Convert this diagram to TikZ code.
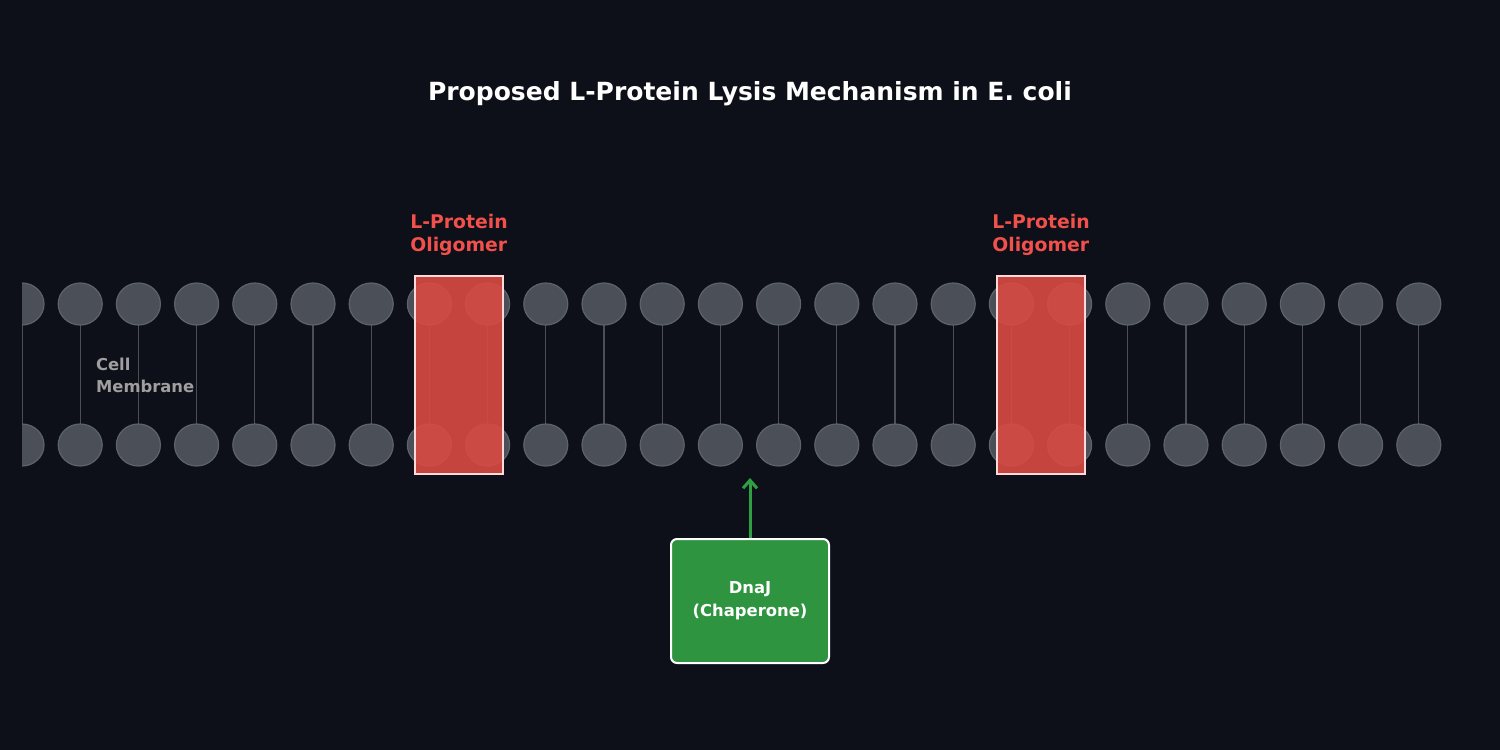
\documentclass[tikz,border=0pt]{standalone}
\usepackage{fontspec}
\setmainfont{DejaVu Sans}
\usetikzlibrary{arrows.meta}
\definecolor{bgdark}{HTML}{0D1018}
\definecolor{headgray}{HTML}{4B5058}
\definecolor{headedge}{HTML}{5E636B}
\definecolor{tailgray}{HTML}{4A4E56}
\definecolor{oligred}{HTML}{DA4A42}
\definecolor{labred}{HTML}{F2504B}
\definecolor{dnagreen}{HTML}{2E9440}
\definecolor{arrgreen}{HTML}{2EA043}
\tikzset{
  head/.style={ellipse, draw=headedge, fill=headgray, line width=0.6pt},
  oligomer/.style={draw=white!85!red, fill=oligred, fill opacity=0.9, line width=0.6pt},
  redlabel/.style={text=labred, font=\bfseries\fontsize{9.4}{11.5}\selectfont, align=left},
}
\begin{document}
\begin{tikzpicture}[x=0.5pt, y=-0.5pt]
  \fill[bgdark] (0,0) rectangle (1500,750);
  \node[text=white, font=\bfseries\fontsize{12.5}{15}\selectfont] (title) at (750,94) {Proposed L-Protein Lysis Mechanism in E. coli};

  % membrane
  \begin{scope}
    \clip (22,250) rectangle (1500,500);
    \foreach \i in {0,...,24} {
      \pgfmathsetmacro{\xx}{22+58.2*\i}
      \draw[tailgray, line width=0.6pt] (\xx,304) -- (\xx,445);
      \fill[headgray] (\xx,304) ellipse (22 and 21);
      \draw[headedge, line width=0.6pt] (\xx,304) ellipse (22 and 21);
      \fill[headgray] (\xx,445) ellipse (22 and 21);
      \draw[headedge, line width=0.6pt] (\xx,445) ellipse (22 and 21);
    }
  \end{scope}
  \node[text=gray!75, font=\bfseries\fontsize{8.2}{11}\selectfont, align=left, anchor=west] (membrane) at (89,375) {Cell\\Membrane};

  % oligomers
  \draw[oligomer] (415,276) rectangle (503,474);
  \draw[oligomer] (997,276) rectangle (1085,474);
  \node[redlabel] (olig1) at (459,235) {L-Protein\\Oligomer};
  \node[redlabel] (olig2) at (1041,235) {L-Protein\\Oligomer};

  % chaperone
  \node[draw=white, fill=dnagreen, rounded corners=3pt, line width=1pt, minimum width=79pt, minimum height=62pt,
        text=white, font=\bfseries\fontsize{8.2}{11.5}\selectfont, align=center] (dnaj) at (750,601) {DnaJ\\(Chaperone)};
  \coordinate (target) at (750,478);
  \draw[arrgreen, line width=1.5pt, -{Straight Barb[length=4pt, width=7pt]}] (dnaj.north) -- (target);
\end{tikzpicture}
\end{document}
